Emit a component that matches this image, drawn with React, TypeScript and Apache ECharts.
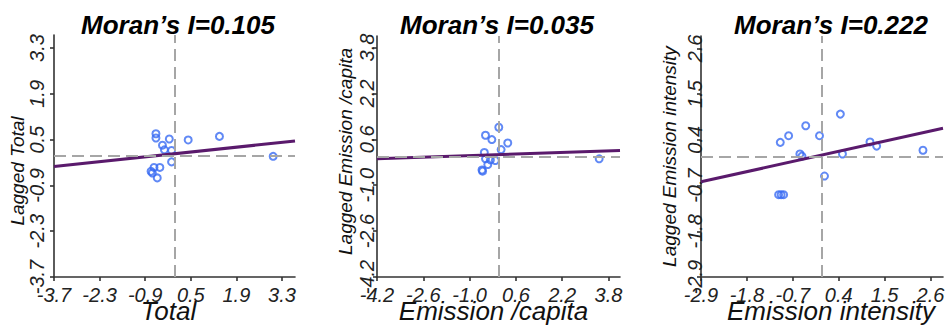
import React, { useEffect, useRef } from "react";
import * as echarts from "echarts";

const titles = ["Moran’s I=0.105", "Moran’s I=0.035", "Moran’s I=0.222"];
const xNames = ["Total", "Emission /capita", "Emission intensity"];
const yNames = ["Lagged Total", "Lagged Emission /capita", "Lagged Emission intensity"];

const ticks1 = [-3.7, -2.3, -0.9, 0.5, 1.9, 3.3];
const ticks2 = [-4.2, -2.6, -1.0, 0.6, 2.2, 3.8];
const ticks3 = [-2.9, -1.8, -0.7, 0.4, 1.5, 2.6];
const ranges = [3.7, 4.2, 2.9];

const totalX = [-0.57, -0.57, -0.16, 0.42, 1.38, -0.37, -0.31, -0.09, -0.09, -0.63, -0.45, -0.72, -0.68, -0.53, 3.03];
const totalLag = [0.68, 0.55, 0.52, 0.49, 0.6, 0.33, 0.19, 0.17, -0.18, -0.35, -0.35, -0.47, -0.52, -0.67, -0.01];

const capitaX = [0.01, -0.45, -0.23, 0.32, 0.09, -0.49, -0.45, -0.28, -0.11, -0.37, -0.55, -0.57, 3.48];
const capitaLag = [1.02, 0.74, 0.59, 0.47, 0.24, 0.14, -0.08, -0.12, -0.14, -0.28, -0.51, -0.47, -0.08];

const intensX = [0.44, -0.39, -0.8, -0.06, -1.0, 1.15, 1.31, 2.42, -0.53, -0.48, 0.49, 0.06, -1.04, -0.98, -0.92];
const intensLag = [1.02, 0.74, 0.5, 0.5, 0.34, 0.35, 0.25, 0.15, 0.06, 0.01, 0.06, -0.47, -0.92, -0.92, -0.92];

const slopes = [0.105, 0.035, 0.222];
const intercepts = [0.07, 0.065, 0.035];

const FONT = "'Liberation Sans', Arial, Helvetica, sans-serif";

export default function App() {
  const ref = useRef<HTMLDivElement>(null);
  useEffect(() => {
    document.body.style.margin = "0";
    if (!ref.current) return;
    const chart = echarts.init(ref.current, undefined, { renderer: "svg" });
    const grids = [
      { left: 54, top: 35, width: 241, height: 242, outerBoundsMode: "none", containLabel: false },
      { left: 377, top: 36, width: 243, height: 241, outerBoundsMode: "none", containLabel: false },
      { left: 701, top: 36, width: 242, height: 241, outerBoundsMode: "none", containLabel: false },
    ];
    const tickSets = [ticks1, ticks2, ticks3];
    const xs = [totalX, capitaX, intensX];
    const ys = [totalLag, capitaLag, intensLag];
    const xNamePad = [[0, 12, 0, 0], [0, 10, 0, 0], [0, 0, 0, 18]];
    const yNamePad = [[0, 30, 0, 0], [0, 0, 0, 10], [0, 0, 0, 0]];
    const yLabelMargin = [7, 0, -4];
    const yNameGap = [27, 22, 22];
    const titleX = [178, 497, 831];

    const axisCommon = (i: number) => ({
      type: "value",
      min: -ranges[i],
      max: ranges[i],
      gridIndex: i,
      splitLine: { show: false },
      nameMoveOverlap: false,
      axisLine: { show: true, onZero: false, lineStyle: { color: "#333", width: 1.6 } },
      axisTick: {
        show: true,
        customValues: tickSets[i],
        length: 4,
        lineStyle: { color: "#333", width: 1.6 },
      },
    });

    const xAxis = tickSets.map((t, i) => ({
      ...axisCommon(i),
      name: xNames[i],
      nameLocation: "middle",
      nameGap: 25,
      nameTextStyle: {
        fontFamily: FONT,
        fontStyle: "italic",
        fontSize: 26,
        lineHeight: 18,
        color: "#111",
        padding: xNamePad[i],
      },
      axisLabel: {
        customValues: t,
        formatter: (v: number) => v.toFixed(1),
        fontFamily: FONT,
        fontStyle: "italic",
        fontSize: 20,
        lineHeight: 14,
        color: "#222",
        margin: 11,
      },
    }));

    const yAxis = tickSets.map((t, i) => ({
      ...axisCommon(i),
      name: yNames[i],
      nameLocation: "middle",
      nameGap: yNameGap[i],
      nameTextStyle: {
        fontFamily: FONT,
        fontStyle: "italic",
        fontSize: 19,
        color: "#111",
        padding: yNamePad[i],
      },
      axisLabel: {
        customValues: t,
        formatter: (v: number) => v.toFixed(1),
        rotate: 90,
        fontFamily: FONT,
        fontStyle: "italic",
        fontSize: 20,
        color: "#222",
        margin: yLabelMargin[i],
      },
    }));

    const series: any[] = [];
    for (let i = 0; i < 3; i++) {
      series.push({
        type: "scatter",
        xAxisIndex: i,
        yAxisIndex: i,
        data: xs[i].map((x, k) => [x, ys[i][k]]),
        symbol: "circle",
        symbolSize: 7,
        itemStyle: { color: "rgba(0,0,0,0)", borderColor: "#3a6cf2", borderWidth: 2 },
        z: 3,
        markLine: {
          silent: true,
          symbol: "none",
          label: { show: false },
          lineStyle: { type: [12, 6], color: "#a6a6a6", width: 2 },
          data: [{ xAxis: 0 }, { yAxis: 0 }],
        },
      });
      const r = ranges[i];
      series.push({
        type: "line",
        xAxisIndex: i,
        yAxisIndex: i,
        data: [
          [-r, intercepts[i] - slopes[i] * r],
          [r, intercepts[i] + slopes[i] * r],
        ],
        showSymbol: false,
        symbol: "none",
        lineStyle: { color: "#5a1a6c", width: 3 },
        z: 4,
      });
    }

    chart.setOption({
      animation: false,
      backgroundColor: "#ffffff",
      grid: grids,
      xAxis,
      yAxis,
      series,
      graphic: titles.map((t, i) => ({
        type: "text",
        x: titleX[i],
        y: 25,
        style: {
          text: t,
          fontFamily: FONT,
          fontStyle: "italic",
          fontWeight: "bold",
          fontSize: 26,
          fill: "#000",
          textAlign: "center",
          textVerticalAlign: "middle",
        },
      })),
    });
    return () => chart.dispose();
  }, []);
  return <div ref={ref} style={{ width: 950, height: 327 }} />;
}
